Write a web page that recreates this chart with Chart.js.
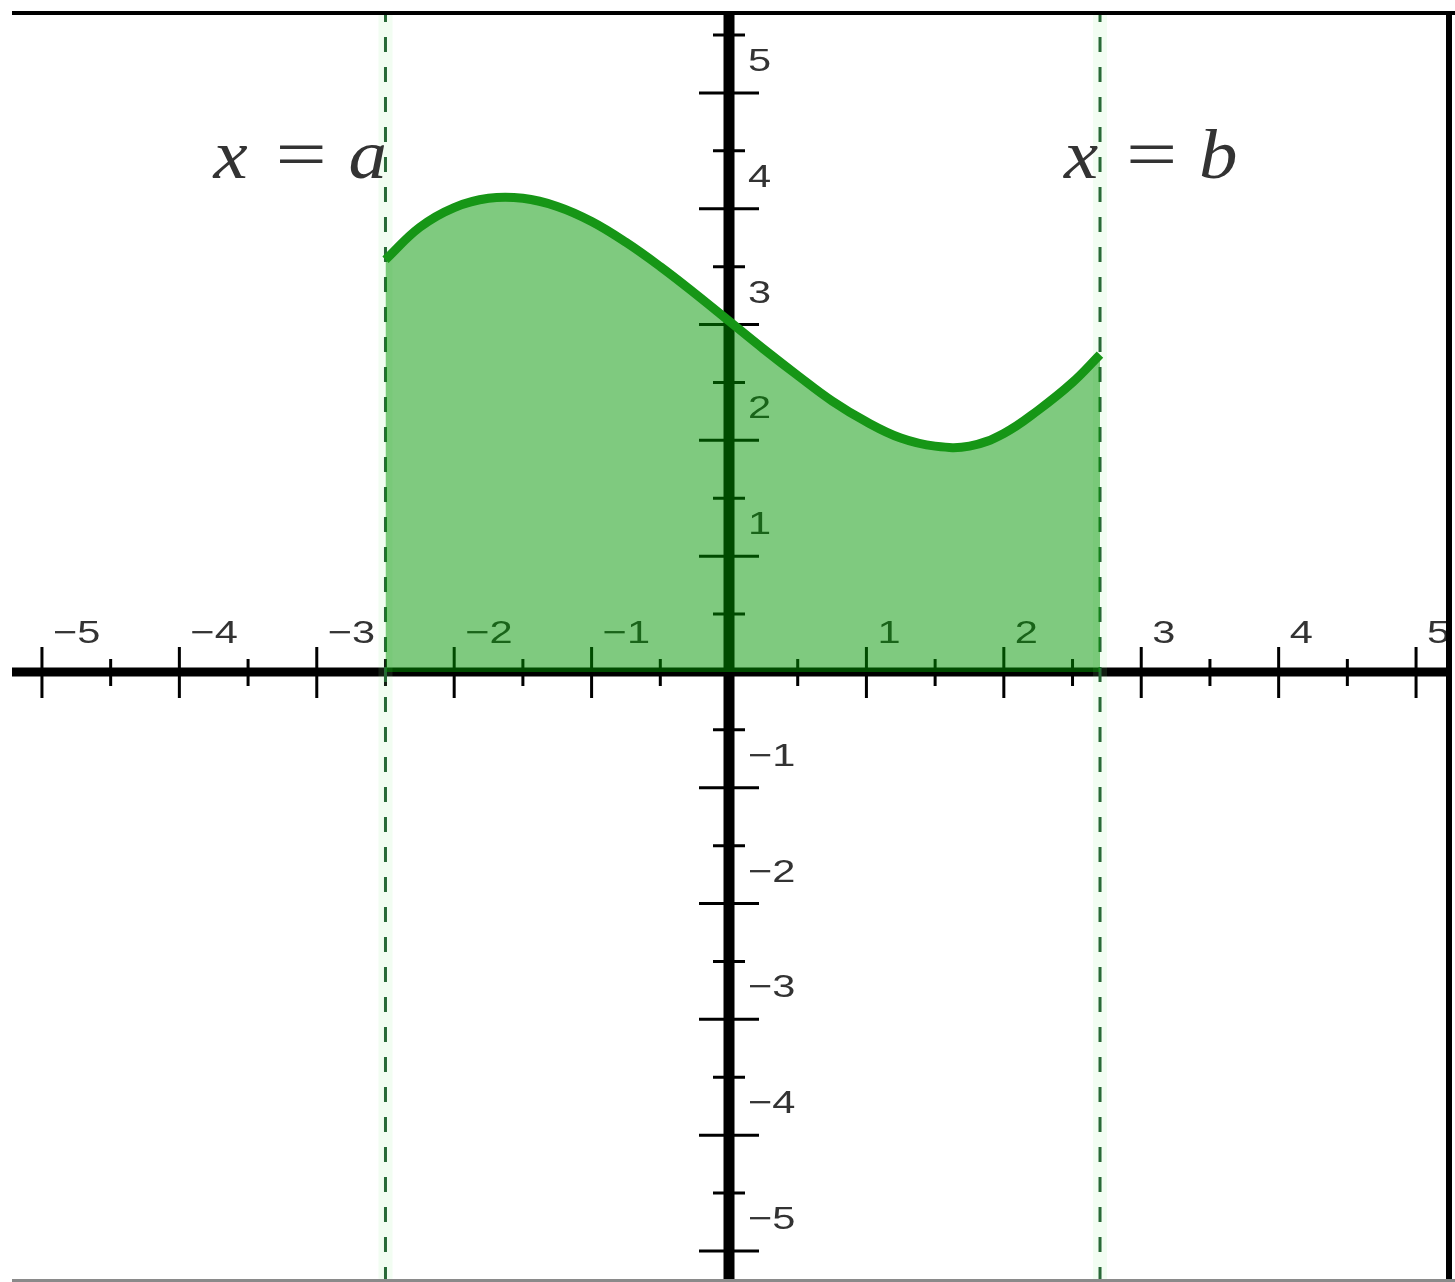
<!DOCTYPE html>
<html>
<head>
<meta charset="utf-8">
<script src="https://cdn.jsdelivr.net/npm/chart.js@4/dist/chart.umd.min.js"></script>
<style>
  html, body { margin: 0; padding: 0; background: #ffffff; }
  canvas { display: block; }
</style>
</head>
<body>
<canvas id="c" width="1455" height="1282"></canvas>
<script>
// ---- data ----
const curveX = [-2.5, -2.25, -2.0, -1.75, -1.5, -1.25, -1.0, -0.75, -0.5, -0.25, 0, 0.25, 0.5, 0.75, 1.0, 1.25, 1.5, 1.75, 2.0, 2.25, 2.5, 2.7];
const curveY = [3.56, 3.84, 4.01, 4.09, 4.09, 4.02, 3.89, 3.71, 3.50, 3.27, 3.03, 2.79, 2.56, 2.34, 2.16, 2.02, 1.95, 1.95, 2.06, 2.26, 2.50, 2.74];
const boundA = -2.5;
const boundB = 2.7;
const boundLabels = ['a', 'b'];
const xTickValues = [-5, -4, -3, -2, -1, 1, 2, 3, 4, 5];
const xTickLabels = ['\u22125', '\u22124', '\u22123', '\u22122', '\u22121', '1', '2', '3', '4', '5'];
const yTickValues = [-5, -4, -3, -2, -1, 1, 2, 3, 4, 5];
const yTickLabels = ['\u22125', '\u22124', '\u22123', '\u22122', '\u22121', '1', '2', '3', '4', '5'];
const xMinorTicks = [-4.5, -3.5, -2.5, -1.5, -0.5, 0.5, 1.5, 2.5, 3.5, 4.5];
const yMinorTicks = [-4.5, -3.5, -2.5, -1.5, -0.5, 0.5, 1.5, 2.5, 3.5, 4.5, 5.5];
const xRange = [-5.218, 5.247];
const yRange = [-5.268, 5.699];

const curveData = curveX.map((v, i) => ({ x: v, y: curveY[i] }));
const lineA = [{ x: boundA, y: yRange[0] }, { x: boundA, y: yRange[1] }];
const lineB = [{ x: boundB, y: yRange[0] }, { x: boundB, y: yRange[1] }];

const axesPlugin = {
  id: 'mathAxes',
  beforeDatasetsDraw(chart) {
    const { ctx, chartArea: ca } = chart;
    const xs = chart.scales.x, ys = chart.scales.y;
    const x0 = xs.getPixelForValue(0), y0 = ys.getPixelForValue(0);
    ctx.save();
    ctx.strokeStyle = '#000';
    ctx.lineCap = 'butt';
    ctx.lineWidth = 9;
    ctx.beginPath(); ctx.moveTo(ca.left, y0); ctx.lineTo(ca.right, y0); ctx.stroke();
    ctx.lineWidth = 11;
    ctx.beginPath(); ctx.moveTo(x0, ca.top); ctx.lineTo(x0, ca.bottom); ctx.stroke();
    ctx.lineWidth = 3;
    ctx.beginPath();
    xTickValues.forEach(v => { const p = xs.getPixelForValue(v); ctx.moveTo(p, y0 - 25); ctx.lineTo(p, y0 + 26); });
    xMinorTicks.forEach(v => { const p = xs.getPixelForValue(v); ctx.moveTo(p, y0 - 13); ctx.lineTo(p, y0 + 14); });
    yTickValues.forEach(v => { const p = ys.getPixelForValue(v); ctx.moveTo(x0 - 30, p); ctx.lineTo(x0 + 30, p); });
    yMinorTicks.forEach(v => { const p = ys.getPixelForValue(v); ctx.moveTo(x0 - 16, p); ctx.lineTo(x0 + 16, p); });
    ctx.stroke();
    ctx.fillStyle = '#333';
    ctx.font = '32px "Liberation Sans", Arial, sans-serif';
    ctx.textAlign = 'left';
    ctx.textBaseline = 'alphabetic';
    xTickValues.forEach((v, i) => {
      const p = xs.getPixelForValue(v);
      ctx.save(); ctx.translate(p + 11, y0 - 29); ctx.scale(1.3, 1); ctx.fillText(xTickLabels[i], 0, 0); ctx.restore();
    });
    yTickValues.forEach((v, i) => {
      const p = ys.getPixelForValue(v);
      ctx.save(); ctx.translate(x0 + 19, p - 22); ctx.scale(1.3, 1); ctx.fillText(yTickLabels[i], 0, 0); ctx.restore();
    });
    ctx.restore();
  },
  afterDraw(chart) {
    const { ctx } = chart;
    const xs = chart.scales.x;
    const pa = xs.getPixelForValue(boundA), pb = xs.getPixelForValue(boundB);
    ctx.save();
    ctx.fillStyle = '#333';
    ctx.textAlign = 'left';
    ctx.textBaseline = 'alphabetic';
    const drawEq = (left, letter) => {
      ctx.font = 'italic 70px "Liberation Serif", serif';
      ctx.save(); ctx.translate(left, 178); ctx.scale(1.1, 1); ctx.fillText('x', 0, 0); ctx.restore();
      ctx.font = '70px "Liberation Serif", serif';
      ctx.save(); ctx.translate(left + 62, 178); ctx.scale(1.3, 1); ctx.fillText('=', 0, 0); ctx.restore();
      ctx.font = 'italic 70px "Liberation Serif", serif';
      ctx.save(); ctx.translate(left + 135, 178); ctx.scale(1.1, 1); ctx.fillText(letter, 0, 0); ctx.restore();
    };
    drawEq(pa - 172, boundLabels[0]);
    drawEq(pb - 36, boundLabels[1]);
    // frame
    ctx.fillStyle = '#000';
    ctx.fillRect(12, 11, 1443, 4);
    ctx.fillRect(1446, 11, 6, 1271);
    ctx.fillStyle = '#8a8a8a';
    ctx.fillRect(12, 1279, 1443, 3);
    ctx.restore();
  }
};

new Chart(document.getElementById('c'), {
  type: 'scatter',
  data: {
    datasets: [
      {
        label: 'f(x)',
        data: curveData,
        showLine: true,
        borderColor: 'rgb(22,150,22)',
        borderWidth: 9,
        backgroundColor: 'rgba(0,150,0,0.5)',
        fill: 'origin',
        tension: 0.4,
        pointRadius: 0,
        order: 0
      },
      {
        label: 'x = a',
        data: lineA,
        showLine: true,
        borderColor: 'rgb(40,105,55)',
        borderWidth: 3,
        borderDash: [15, 15],
        fill: false,
        pointRadius: 0,
        order: 1
      },
      {
        label: 'x = b',
        data: lineB,
        showLine: true,
        borderColor: 'rgb(40,105,55)',
        borderWidth: 3,
        borderDash: [15, 15],
        fill: false,
        pointRadius: 0,
        order: 1
      },
      {
        label: 'halo a',
        data: lineA,
        showLine: true,
        borderColor: 'rgba(150,235,150,0.12)',
        borderWidth: 14,
        fill: false,
        pointRadius: 0,
        order: 2
      },
      {
        label: 'halo b',
        data: lineB,
        showLine: true,
        borderColor: 'rgba(150,235,150,0.12)',
        borderWidth: 14,
        fill: false,
        pointRadius: 0,
        order: 2
      }
    ]
  },
  options: {
    responsive: false,
    devicePixelRatio: 1,
    animation: false,
    layout: { padding: { left: 12, top: 12, right: 5, bottom: 0 } },
    plugins: { legend: { display: false }, tooltip: { enabled: false } },
    scales: {
      x: { type: 'linear', min: xRange[0], max: xRange[1], display: false },
      y: { type: 'linear', min: yRange[0], max: yRange[1], display: false }
    }
  },
  plugins: [axesPlugin]
});
</script>
</body>
</html>
